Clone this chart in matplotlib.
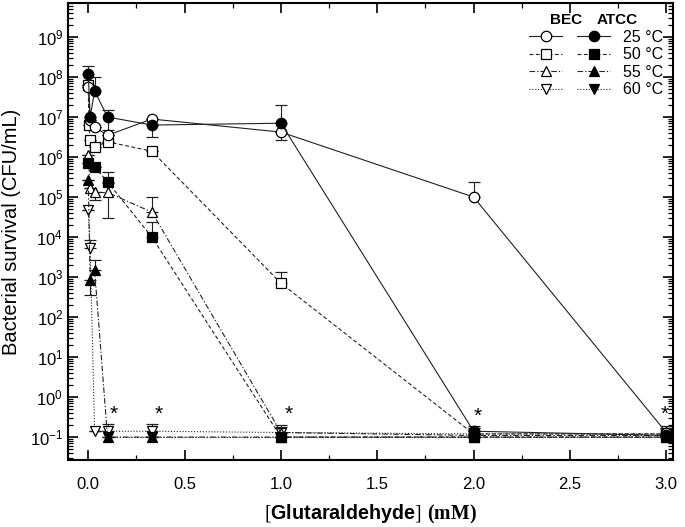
import numpy as np
import matplotlib
matplotlib.use("Agg")
import matplotlib.pyplot as plt
from matplotlib.ticker import LogLocator, MultipleLocator, NullFormatter

plt.rcParams['font.family'] = ['Liberation Sans', 'DejaVu Sans']
plt.rcParams['mathtext.fontset'] = 'custom'
plt.rcParams['mathtext.rm'] = 'Liberation Serif'
plt.rcParams['mathtext.bf'] = 'Liberation Serif:bold'
plt.rcParams['mathtext.sf'] = 'Liberation Sans:bold'

# ---- data (CFU/mL) ----
x_bec25 = [0, 0.01, 0.033, 0.1, 0.33, 1, 2, 3]
y_bec25 = [5.6e7, 8.5e6, 5.6e6, 3.5e6, 8.9e6, 4.2e6, 1.0e5, 0.13]
up_bec25 = [0, 0, 0, 0, 0, 0, 1.4e5, 0.06]
lo_bec25 = [0, 0, 0, 0, 0, 1.5e6, 0, 0]

x_atcc25 = [0, 0.01, 0.033, 0.1, 0.33, 1, 2, 3]
y_atcc25 = [1.2e8, 1.0e7, 4.5e7, 1.0e7, 6.3e6, 7.0e6, 0.14, 0.11]
up_atcc25 = [7e7, 0, 5.5e7, 5e6, 0, 1.3e7, 0.05, 0.04]
lo_atcc25 = [0, 0, 0, 5.3e6, 3.1e6, 0, 0, 0]

x_bec50 = [0, 0.003, 0.01, 0.033, 0.1, 0.33, 1, 2, 3]
y_bec50 = [6.3e7, 6.3e6, 2.7e6, 1.8e6, 2.4e6, 1.4e6, 7e2, 0.12, 0.12]
up_bec50 = [0, 0, 0, 0, 0, 0, 6e2, 0.05, 0.05]
lo_bec50 = [0, 0, 0, 0, 0, 0, 0, 0, 0]

x_atcc50 = [0, 0.033, 0.1, 0.33, 1, 2, 3]
y_atcc50 = [7e5, 5.6e5, 2.4e5, 1e4, 0.1, 0.1, 0.1]
up_atcc50 = [0, 0, 1.9e5, 1.4e4, 0, 0, 0]
lo_atcc50 = [0, 0, 0, 0, 0, 0, 0]

x_bec55 = [0, 0.01, 0.033, 0.1, 0.33, 1, 2, 3]
y_bec55 = [1.1e6, 1.7e5, 1.3e5, 1.3e5, 4.2e4, 0.13, 0.11, 0.11]
up_bec55 = [0, 0, 0, 1e5, 6e4, 0.07, 0, 0]
lo_bec55 = [0, 0, 4.5e4, 1e5, 0, 0, 0, 0]

x_atcc55 = [0, 0.01, 0.033, 0.1, 0.33, 1, 2, 3]
y_atcc55 = [2.7e5, 8.5e2, 1.5e3, 0.1, 0.1, 0.1, 0.1, 0.1]
up_atcc55 = [0, 0, 1.2e3, 0, 0, 0, 0, 0]
lo_atcc55 = [0, 5e2, 0, 0, 0, 0, 0, 0]

x_bec60 = [0, 0.01, 0.033, 0.1, 0.33, 1, 2, 3]
y_bec60 = [4.7e4, 5.3e3, 0.14, 0.14, 0.14, 0.13, 0.12, 0.12]
up_bec60 = [0, 3.2e3, 0, 0.07, 0.07, 0.05, 0.05, 0.05]
lo_bec60 = [0, 0, 0, 0, 0, 0, 0, 0]

x_atcc60 = [0.1, 0.33, 1, 2, 3]
y_atcc60 = [0.1, 0.1, 0.1, 0.1, 0.1]

star_x = [0.13, 0.365, 1.04, 2.02, 2.99]
star_y = [0.37, 0.37, 0.37, 0.33, 0.37]

temps = ['25 °C', '50 °C', '55 °C', '60 °C']

fig = plt.figure(figsize=(6.85, 5.27), dpi=100)
ax = fig.add_axes([0.0993, 0.127, 0.8832, 0.8673])

lw = 0.8
ms = 7.5
ls50 = (0, (3.5, 2.2))
ls55 = (0, (5, 1.8, 1.2, 1.8))
ls60 = (0, (1, 1.6))

series = [
    (x_bec60, y_bec60, lo_bec60, up_bec60, 'v', 'white', ls60),
    (x_atcc60, y_atcc60, None, None, 'v', 'black', ls60),
    (x_bec55, y_bec55, lo_bec55, up_bec55, '^', 'white', ls55),
    (x_atcc55, y_atcc55, lo_atcc55, up_atcc55, '^', 'black', ls55),
    (x_bec50, y_bec50, lo_bec50, up_bec50, 's', 'white', ls50),
    (x_atcc50, y_atcc50, lo_atcc50, up_atcc50, 's', 'black', ls50),
    (x_bec25, y_bec25, lo_bec25, up_bec25, 'o', 'white', '-'),
    (x_atcc25, y_atcc25, lo_atcc25, up_atcc25, 'o', 'black', '-'),
]

handles = {}
for x, y, lo, up, m, fc, ls in series:
    yerr = None if lo is None else [lo, up]
    eb = ax.errorbar(x, y, yerr=yerr, color='#222222', lw=lw, ls=ls,
                     marker=m, ms=ms, mfc=fc, mec='black', mew=0.9,
                     ecolor='#222222', elinewidth=0.8, capsize=4, capthick=0.8)
    handles[(m, fc)] = eb[0]

for sx, sy in zip(star_x, star_y):
    ax.text(sx, sy, '*', fontsize=15, ha='center', va='center')

ax.set_yscale('log')
ax.set_xlim(-0.105, 3.035)
ax.set_ylim(10**-1.575, 10**9.85)
ax.yaxis.set_major_locator(LogLocator(base=10, numticks=20))
ax.yaxis.set_minor_locator(LogLocator(base=10, subs=np.arange(2, 10), numticks=20))
ax.yaxis.set_minor_formatter(NullFormatter())
ax.xaxis.set_major_locator(MultipleLocator(0.5))
ax.xaxis.set_minor_locator(MultipleLocator(0.25))
ax.tick_params(which='both', direction='in', top=True, right=True, labelsize=12)
ax.tick_params(which='major', length=7, width=1.2)
ax.tick_params(which='minor', length=3.5, width=0.9)
ax.tick_params(axis='x', pad=12)
for s in ax.spines.values():
    s.set_linewidth(1.5)

ax.set_ylabel('Bacterial survival (CFU/mL)', fontsize=14.5, labelpad=6)
ax.set_xlabel(r'$\mathrm{[}\mathsf{Glutaraldehyde}\mathrm{]}\ \mathbf{(mM)}$', fontsize=14.2, va='center')
ax.xaxis.set_label_coords(0.5, -0.12)

# legend: BEC column (no labels) + ATCC column with temperatures
bec_h = [handles[('o', 'white')], handles[('s', 'white')], handles[('^', 'white')], handles[('v', 'white')]]
atcc_h = [handles[('o', 'black')], handles[('s', 'black')], handles[('^', 'black')], handles[('v', 'black')]]
leg = ax.legend(bec_h + atcc_h, [''] * 4 + temps, ncol=2, loc='upper right',
                bbox_to_anchor=(1.0, 0.962), frameon=False, fontsize=11.5,
                handlelength=2.1, handletextpad=0.8, columnspacing=0.1,
                labelspacing=0.15, borderaxespad=0.2)
ax.text(0.823, 0.963, 'BEC', transform=ax.transAxes, fontsize=11, fontweight='bold', ha='center', va='center')
ax.text(0.907, 0.963, 'ATCC', transform=ax.transAxes, fontsize=11, fontweight='bold', ha='center', va='center')

fig.savefig('out.png', dpi=100)
